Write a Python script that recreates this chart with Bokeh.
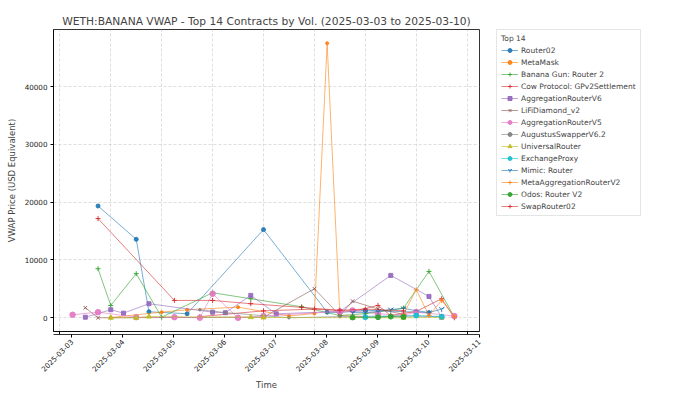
import pandas as pd
from bokeh.plotting import figure
from bokeh.models import (Range1d, FixedTicker, DatetimeTickFormatter, NumeralTickFormatter,
                          Legend, LegendItem, ColumnDataSource, DatetimeAxis)
from bokeh.embed import file_html
from bokeh.resources import INLINE
import math

title = "WETH:BANANA VWAP - Top 14 Contracts by Vol. (2025-03-03 to 2025-03-10)"
x_ticks = ["2025-03-03", "2025-03-04", "2025-03-05", "2025-03-06", "2025-03-07",
           "2025-03-08", "2025-03-09", "2025-03-10", "2025-03-11"]
y_ticks = [0, 10000, 20000, 30000, 40000]

router02_t = ["2025-03-03 18:00", "2025-03-04 12:00", "2025-03-04 18:00", "2025-03-05 12:00",
              "2025-03-07 00:00", "2025-03-08 06:00", "2025-03-08 12:00", "2025-03-09 00:00",
              "2025-03-10 06:00"]
router02_v = [19340, 13570, 1040, 700, 15250, 970, 900, 1300, 900]

metamask_t = ["2025-03-04 00:00", "2025-03-05 00:00", "2025-03-05 12:00", "2025-03-06 12:00",
              "2025-03-07 12:00", "2025-03-08 00:00", "2025-03-08 06:00", "2025-03-08 12:00",
              "2025-03-09 00:00"]
metamask_v = [50, 970, 1390, 1840, 300, 750, 47490, 400, 200]

banana_t = ["2025-03-03 18:00", "2025-03-04 00:00", "2025-03-04 12:00", "2025-03-05 00:00",
            "2025-03-06 00:00", "2025-03-06 18:00", "2025-03-07 18:00", "2025-03-08 12:00",
            "2025-03-09 00:00", "2025-03-09 18:00", "2025-03-10 06:00", "2025-03-10 18:00"]
banana_v = [8490, 2130, 7630, 100, 4330, 3290, 1900, 400, 700, 1660, 8020, 100]

cow_t = ["2025-03-05 18:00", "2025-03-07 00:00", "2025-03-08 00:00", "2025-03-08 18:00",
         "2025-03-09 06:00", "2025-03-09 12:00", "2025-03-10 00:00", "2025-03-10 12:00",
         "2025-03-10 18:00"]
cow_v = [200, 1200, 1500, 1100, 2130, 400, 1100, 3290, 0]

aggv6_t = ["2025-03-03 12:00", "2025-03-04 00:00", "2025-03-04 06:00", "2025-03-04 18:00",
           "2025-03-06 00:00", "2025-03-06 06:00", "2025-03-06 18:00", "2025-03-07 06:00",
           "2025-03-08 12:00", "2025-03-09 12:00", "2025-03-10 06:00", "2025-03-10 12:00"]
aggv6_v = [100, 1390, 800, 2430, 970, 870, 3870, 690, 1090, 7330, 3690, 100]

lifi_t = ["2025-03-03 12:00", "2025-03-03 18:00", "2025-03-07 00:00", "2025-03-08 00:00",
          "2025-03-08 12:00", "2025-03-08 18:00", "2025-03-09 06:00", "2025-03-09 18:00"]
lifi_v = [1730, 0, 100, 5030, 400, 2880, 1500, 600]

aggv5_t = ["2025-03-03 06:00", "2025-03-03 18:00", "2025-03-04 12:00", "2025-03-05 06:00",
           "2025-03-05 18:00", "2025-03-06 00:00", "2025-03-06 12:00", "2025-03-07 00:00",
           "2025-03-08 12:00", "2025-03-08 18:00", "2025-03-09 06:00", "2025-03-09 18:00",
           "2025-03-10 00:00", "2025-03-10 18:00"]
aggv5_v = [520, 970, 100, 100, 0, 4160, 0, 300, 1100, 1270, 700, 400, 1000, 300]

augustus_t = ["2025-03-05 18:00", "2025-03-06 06:00", "2025-03-07 12:00", "2025-03-08 12:00",
              "2025-03-09 12:00", "2025-03-10 12:00"]
augustus_v = [1390, 900, 0, 200, 300, 200]

universal_t = ["2025-03-04 00:00", "2025-03-04 12:00", "2025-03-04 18:00", "2025-03-06 18:00",
               "2025-03-07 00:00", "2025-03-08 18:00", "2025-03-09 18:00", "2025-03-10 12:00"]
universal_v = [0, 0, 200, 100, 50, 0, 0, 50]

exchange_t = ["2025-03-09 00:00", "2025-03-10 00:00", "2025-03-10 12:00"]
exchange_v = [100, 400, 200]

mimic_t = ["2025-03-08 18:00", "2025-03-09 00:00", "2025-03-09 06:00", "2025-03-09 12:00",
           "2025-03-09 18:00", "2025-03-10 06:00", "2025-03-10 12:00"]
mimic_v = [900, 900, 1100, 1400, 1600, 900, 1500]

metaagg_t = ["2025-03-09 18:00", "2025-03-10 00:00", "2025-03-10 06:00", "2025-03-10 12:00",
             "2025-03-10 18:00"]
metaagg_v = [600, 4850, 400, 3000, 200]

odos_t = ["2025-03-08 18:00", "2025-03-09 06:00", "2025-03-09 12:00", "2025-03-09 18:00"]
odos_v = [50, 100, 200, 150]

swap_t = ["2025-03-03 18:00", "2025-03-05 06:00", "2025-03-06 00:00", "2025-03-06 18:00",
          "2025-03-07 18:00", "2025-03-08 12:00", "2025-03-09 00:00", "2025-03-09 18:00"]
swap_v = [17160, 3000, 3000, 2430, 1800, 1300, 1500, 1200]

series = [
    ("Router02", router02_t, router02_v, "#1f77b4", "circle", 4),
    ("MetaMask", metamask_t, metamask_v, "#ff7f0e", "circle", 3),
    ("Banana Gun: Router 2", banana_t, banana_v, "#2ca02c", "cross", 5),
    ("Cow Protocol: GPv2Settlement", cow_t, cow_v, "#d62728", "cross", 5),
    ("AggregationRouterV6", aggv6_t, aggv6_v, "#9467bd", "square", 4),
    ("LiFiDiamond_v2", lifi_t, lifi_v, "#8c564b", "x", 5),
    ("AggregationRouterV5", aggv5_t, aggv5_v, "#e377c2", "circle", 5.5),
    ("AugustusSwapperV6.2", augustus_t, augustus_v, "#7f7f7f", "circle", 2.5),
    ("UniversalRouter", universal_t, universal_v, "#bcbd22", "triangle", 5),
    ("ExchangeProxy", exchange_t, exchange_v, "#17becf", "circle", 5),
    ("Mimic: Router", mimic_t, mimic_v, "#1f77b4", "y", 6),
    ("MetaAggregationRouterV2", metaagg_t, metaagg_v, "#ff7f0e", "cross", 5),
    ("Odos: Router V2", odos_t, odos_v, "#2ca02c", "circle", 5),
    ("SwapRouter02", swap_t, swap_v, "#d62728", "cross", 5),
]

all_t = pd.to_datetime([t for s in series for t in s[1]])
all_v = [v for s in series for v in s[2]]
tmin, tmax = all_t.min(), all_t.max()
span = tmax - tmin
vmin, vmax = min(all_v), max(all_v)
vr = vmax - vmin

FW, FH = 420, 302
EXT_R = 6          # a few extra px on the right so the last date label fits
x0, x1 = tmin - 0.05 * span, tmax + 0.05 * span
mpp = (x1 - x0) / FW
x1e = x1 + EXT_R * mpp
y0, y1 = vmin - 0.05 * vr, vmax + 0.05 * vr

p = figure(x_axis_type="datetime", frame_width=FW + EXT_R, frame_height=FH,
           output_backend="svg", toolbar_location=None,
           x_range=Range1d(x0, x1e), y_range=Range1d(y0, y1),
           min_border_left=53, min_border_top=29, min_border_right=186, min_border_bottom=0)

p.title.text = title
p.title.align = "center"
p.title.text_font = "DejaVu Sans"
p.title.text_font_size = "10.7px"
p.title.text_font_style = "normal"
p.title.standoff = 4
p.title.offset = 0

items = []
for name, ts, vs, color, marker, size in series:
    src = ColumnDataSource(dict(t=pd.to_datetime(ts), v=vs))
    lr = p.line("t", "v", source=src, line_color=color, line_width=0.8, line_alpha=0.75)
    sr = p.scatter("t", "v", source=src, marker=marker, size=size, fill_color=color,
                   line_color=color, line_width=1, alpha=0.9)
    items.append(LegendItem(label=name, renderers=[lr, sr]))

legend = Legend(items=items, title="Top 14", location=(23 - EXT_R, 115),
                label_text_font="DejaVu Sans", label_text_font_size="7.5px",
                title_text_font="DejaVu Sans", title_text_font_size="7.5px",
                title_text_font_style="normal", title_standoff=2,
                label_height=10, glyph_height=10, glyph_width=17, spacing=2,
                label_standoff=3, padding=4, margin=0,
                border_line_color="#cccccc", border_line_width=0.8,
                background_fill_alpha=0.8)
p.add_layout(legend, "right")

tick_ms = [pd.Timestamp(d).value / 1e6 for d in x_ticks]
fmt = DatetimeTickFormatter(days="%Y-%m-%d", months="%Y-%m-%d", hours="%Y-%m-%d")

# main x axis: tick marks only (labels not drawn here)
p.xaxis.ticker = FixedTicker(ticks=tick_ms)
p.xaxis.formatter = fmt
p.xaxis.major_label_text_color = None
p.xaxis.major_label_text_font_size = "1px"
p.xaxis.major_label_standoff = 0

# label axis: same ticks, labels moved right so that they sit centred under each tick
SHIFT = 12.0
shift = SHIFT * mpp
p.extra_x_ranges = {"lbl": Range1d(x0 - shift, x1e - shift)}
lab_axis = DatetimeAxis(x_range_name="lbl", ticker=FixedTicker(ticks=tick_ms), formatter=fmt)
lab_axis.axis_line_color = None
lab_axis.major_tick_line_color = None
lab_axis.minor_tick_line_color = None
lab_axis.major_tick_out = 0
lab_axis.major_tick_in = 0
lab_axis.major_label_orientation = math.pi / 4
lab_axis.major_label_standoff = 3
lab_axis.major_label_text_font = "DejaVu Sans"
lab_axis.major_label_text_font_size = "7.2px"
lab_axis.major_label_text_color = "#222222"
lab_axis.axis_label = "Time"
lab_axis.axis_label_text_font = "DejaVu Sans"
lab_axis.axis_label_text_font_size = "8.5px"
lab_axis.axis_label_text_font_style = "normal"
lab_axis.axis_label_standoff = 3
p.add_layout(lab_axis, "below")

p.yaxis.ticker = FixedTicker(ticks=y_ticks)
p.yaxis.formatter = NumeralTickFormatter(format="0")
p.yaxis.axis_label = "VWAP Price (USD Equivalent)"
p.yaxis.axis_label_text_font = "DejaVu Sans"
p.yaxis.axis_label_text_font_size = "8.5px"
p.yaxis.axis_label_text_font_style = "normal"
p.yaxis.axis_label_standoff = 5
p.yaxis.major_label_text_font = "DejaVu Sans"
p.yaxis.major_label_text_font_size = "7.2px"
p.yaxis.major_label_text_color = "#222222"
p.yaxis.major_label_standoff = 3

for ax in (p.xaxis, p.yaxis):
    ax.axis_line_color = "black"
    ax.axis_line_width = 0.8
    ax.major_tick_line_color = "black"
    ax.major_tick_out = 3
    ax.major_tick_in = 0
    ax.minor_tick_line_color = None

p.outline_line_color = "black"
p.outline_line_width = 0.8
p.xgrid.grid_line_dash = "3 2"
p.ygrid.grid_line_dash = "3 2"
p.xgrid.grid_line_color = "#c8c8c8"
p.ygrid.grid_line_color = "#c8c8c8"
p.xgrid.grid_line_width = 0.6
p.ygrid.grid_line_width = 0.6

open("out.html", "w").write(file_html(p, INLINE))
